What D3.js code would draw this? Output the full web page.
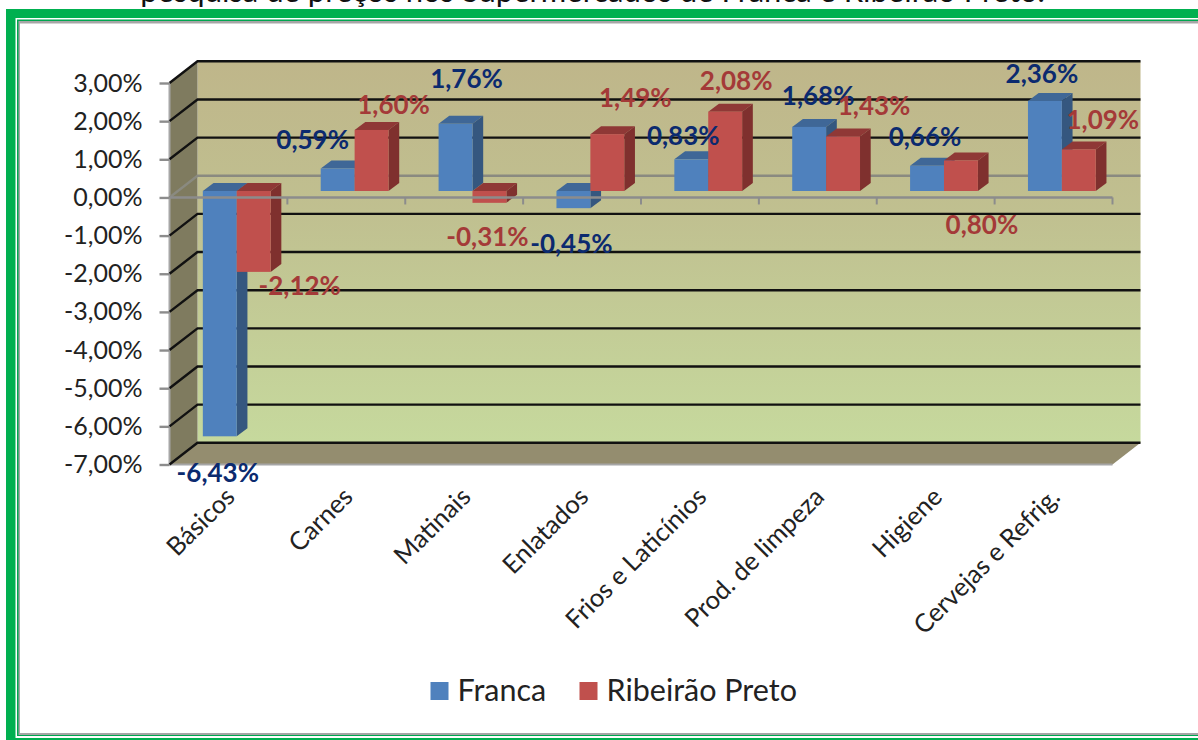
<!DOCTYPE html>
<html>
<head>
<meta charset="utf-8">
<script src="https://cdn.jsdelivr.net/npm/d3@7"></script>
<style>
  html, body { margin: 0; padding: 0; background: #fff; overflow: hidden; }
  svg { display: block; font-family: Lato, "Open Sans", sans-serif; }
</style>
</head>
<body>
<div id="chart"></div>
<script>
const categories = ["Básicos", "Carnes", "Matinais", "Enlatados", "Frios e Laticínios", "Prod. de limpeza", "Higiene", "Cervejas e Refrig."];
const seriesNames = ["Franca", "Ribeirão Preto"];
const franca = [-6.43, 0.59, 1.76, -0.45, 0.83, 1.68, 0.66, 2.36];
const ribeirao = [-2.12, 1.60, -0.31, 1.49, 2.08, 1.43, 0.80, 1.09];
const yTicks = [3, 2, 1, 0, -1, -2, -3, -4, -5, -6, -7];

// the data labels were placed by hand in the original, offset from the bar top (px)
const francaNudge = [[-2, 36], [-25, -29], [11, -46], [-2, 35], [-8, -24], [9, -32], [-2, -30], [-3, -28]];
const ribeiraoNudge = [[46, 13], [22, -26], [-2, 33], [28, -37], [11, -32], [31, -31], [21, 64], [24, -30]];

const width = 1198, height = 740;
const fill = ["#4f81bd", "#c0504d"];
const fillSide = ["#35577f", "#7f302e"];
const fillTop = ["#3f6797", "#8f3836"];
const labelColor = ["#0b2a6f", "#a43a38"];

// d3.format gives a unicode minus and a dot, the chart has a hyphen and a comma
const pct = v => d3.format(".2f")(v).replace(".", ",").replace("\u2212", "-") + "%";

const svg = d3.select("#chart").append("svg")
	.attr("width", width)
	.attr("height", height);

const defs = svg.append("defs");
const wallGrad = defs.append("linearGradient")
	.attr("id", "wall")
	.attr("x1", 0).attr("x2", 0).attr("y1", 0).attr("y2", 1);
wallGrad.append("stop").attr("offset", "0%").attr("stop-color", "#bfb68a");
wallGrad.append("stop").attr("offset", "40%").attr("stop-color", "#c0c090");
wallGrad.append("stop").attr("offset", "100%").attr("stop-color", "#c6d99d");

// frame around the slide
svg.append("rect").attr("x", 6).attr("y", 9).attr("width", 1300).attr("height", 800).attr("fill", "#00b050");
svg.append("rect").attr("x", 15.5).attr("y", 18).attr("width", 1300).attr("height", 720).attr("fill", "#fff");
svg.append("rect").attr("x", 17).attr("y", 19.5).attr("width", 1300).attr("height", 716.5).attr("fill", "#00a650");
svg.append("rect").attr("x", 18.5).attr("y", 21).attr("width", 1300).attr("height", 714).attr("fill", "#a6a6a6");
svg.append("rect").attr("x", 20).attr("y", 23.5).attr("width", 1300).attr("height", 709.5).attr("fill", "#fff");

svg.append("text")
	.attr("x", 592.5).attr("y", 2)
	.attr("text-anchor", "middle")
	.attr("font-size", 31)
	.attr("fill", "#111")
	.text("pesquisa de preços nos Supermercados de Franca e Ribeirão Preto.");

// front plane scales
const x = d3.scaleBand().domain(categories).range([169.5, 1112.5]);
const y = d3.scaleLinear().domain([-7, 3]).range([464.5, 83]);

// depth: the walls go 28px right and 21.7px up, the bars sit inside that
const wallDx = 28, wallDy = -21.7;
const barDx = 8.3, barDy = -6.45;
const barDepthX = 10.7, barDepthY = -8;
const barW = 33.9;

const x0 = x.range()[0], x1 = x.range()[1];
const yTop = y(3), yBottom = y(-7);

const poly = pts => pts.map(p => p.join(",")).join(" ");

// back wall, left wall, floor
svg.append("rect")
	.attr("x", x0 + wallDx).attr("y", yTop + wallDy)
	.attr("width", x1 - x0).attr("height", yBottom - yTop)
	.attr("fill", "url(#wall)");
svg.append("polygon")
	.attr("points", poly([[x0, yTop], [x0 + wallDx, yTop + wallDy], [x0 + wallDx, yBottom + wallDy], [x0, yBottom]]))
	.attr("fill", "#7f7b5f");
svg.append("polygon")
	.attr("points", poly([[x0, yBottom], [x0 + wallDx, yBottom + wallDy], [x1 + wallDx, yBottom + wallDy], [x1, yBottom]]))
	.attr("fill", "#948d6f");
svg.append("path")
	.attr("d", `M${x0},${yTop}V${yBottom}H${x1}`)
	.attr("fill", "none")
	.attr("stroke", "#a6a6a6")
	.attr("stroke-width", 2);

// gridlines on left wall + back wall
const grid = svg.append("g");
grid.selectAll("polyline")
	.data(yTicks)
	.join("polyline")
	.attr("points", d => poly([[x0, y(d)], [x0 + wallDx, y(d) + wallDy], [x1 + wallDx, y(d) + wallDy]]))
	.attr("fill", "none")
	.attr("stroke", d => d === 0 ? "#8a8a80" : "#111")
	.attr("stroke-width", 2.4);

// y axis
const yAxis = svg.append("g")
	.attr("transform", `translate(${x0},0)`)
	.call(d3.axisLeft(y)
		.tickValues(yTicks)
		.tickSize(10)
		.tickPadding(17)
		.tickFormat(pct));
yAxis.select(".domain").remove();
yAxis.selectAll("line").attr("stroke", "#8c8c8c").attr("stroke-width", 2.4);
yAxis.selectAll("text")
	.attr("font-size", 25)
	.attr("fill", "#222")
	.attr("font-family", "Lato, sans-serif");

// bars
const barData = [];
categories.forEach((c, i) => {
	[franca, ribeirao].forEach((values, s) => {
		barData.push({category: c, series: s, value: values[i], index: i});
	});
});

const barX = d => x(d.category) + x.bandwidth() / 2 + barDx + (d.series - 1) * barW;
const zeroY = y(0) + barDy;
const topY = d => y(d.value) + barDy;

const bars = svg.append("g")
	.selectAll("g")
	.data(barData)
	.join("g");

bars.append("polygon")
	.attr("points", d => {
		const l = barX(d), r = l + barW, t = Math.min(topY(d), zeroY);
		return poly([[l, t], [l + barDepthX, t + barDepthY], [r + barDepthX, t + barDepthY], [r, t]]);
	})
	.attr("fill", d => fillTop[d.series]);
bars.append("polygon")
	.attr("points", d => {
		const r = barX(d) + barW, t = Math.min(topY(d), zeroY), b = Math.max(topY(d), zeroY);
		return poly([[r, t], [r + barDepthX, t + barDepthY], [r + barDepthX, b + barDepthY], [r, b]]);
	})
	.attr("fill", d => fillSide[d.series]);
bars.append("rect")
	.attr("x", barX)
	.attr("y", d => Math.min(topY(d), zeroY))
	.attr("width", barW)
	.attr("height", d => Math.abs(topY(d) - zeroY))
	.attr("fill", d => fill[d.series]);

// category axis along the zero line of the front plane
const xAxis = svg.append("g")
	.attr("transform", `translate(0,${y(0)})`);
xAxis.append("line")
	.attr("x1", x0).attr("x2", x1)
	.attr("stroke", "#8c8c8c").attr("stroke-width", 2.4);
xAxis.selectAll("line.tick")
	.data(categories)
	.join("line")
	.attr("class", "tick")
	.attr("x1", d => x(d) + x.bandwidth()).attr("x2", d => x(d) + x.bandwidth())
	.attr("y1", 0).attr("y2", 7)
	.attr("stroke", "#8c8c8c").attr("stroke-width", 2);

svg.append("g")
	.selectAll("text")
	.data(categories)
	.join("text")
	.attr("text-anchor", "end")
	.attr("transform", d => `translate(${x(d) + x.bandwidth() / 2 + 8},${yBottom + 34}) rotate(-45)`)
	.attr("font-size", 25.5)
	.attr("fill", "#222")
	.text(d => d);

// data labels
const nudges = [francaNudge, ribeiraoNudge];
svg.append("g")
	.selectAll("text")
	.data(barData)
	.join("text")
	.attr("text-anchor", "middle")
	.attr("dominant-baseline", "central")
	.attr("x", d => barX(d) + barW / 2 + nudges[d.series][d.index][0])
	.attr("y", d => topY(d) + nudges[d.series][d.index][1])
	.attr("font-size", 26)
	.attr("font-weight", 700)
	.attr("fill", d => labelColor[d.series])
	.text(d => pct(d.value));

// legend
const legendX = [430.5, 579.5];
const legend = svg.append("g")
	.selectAll("g")
	.data(seriesNames)
	.join("g")
	.attr("transform", (d, i) => `translate(${legendX[i]},682)`);
legend.append("rect")
	.attr("width", 18).attr("height", 18)
	.attr("fill", (d, i) => fill[i]);
legend.append("text")
	.attr("x", 27).attr("y", 19)
	.attr("font-size", 30.5)
	.attr("fill", "#222")
	.text(d => d);
</script>
</body>
</html>
